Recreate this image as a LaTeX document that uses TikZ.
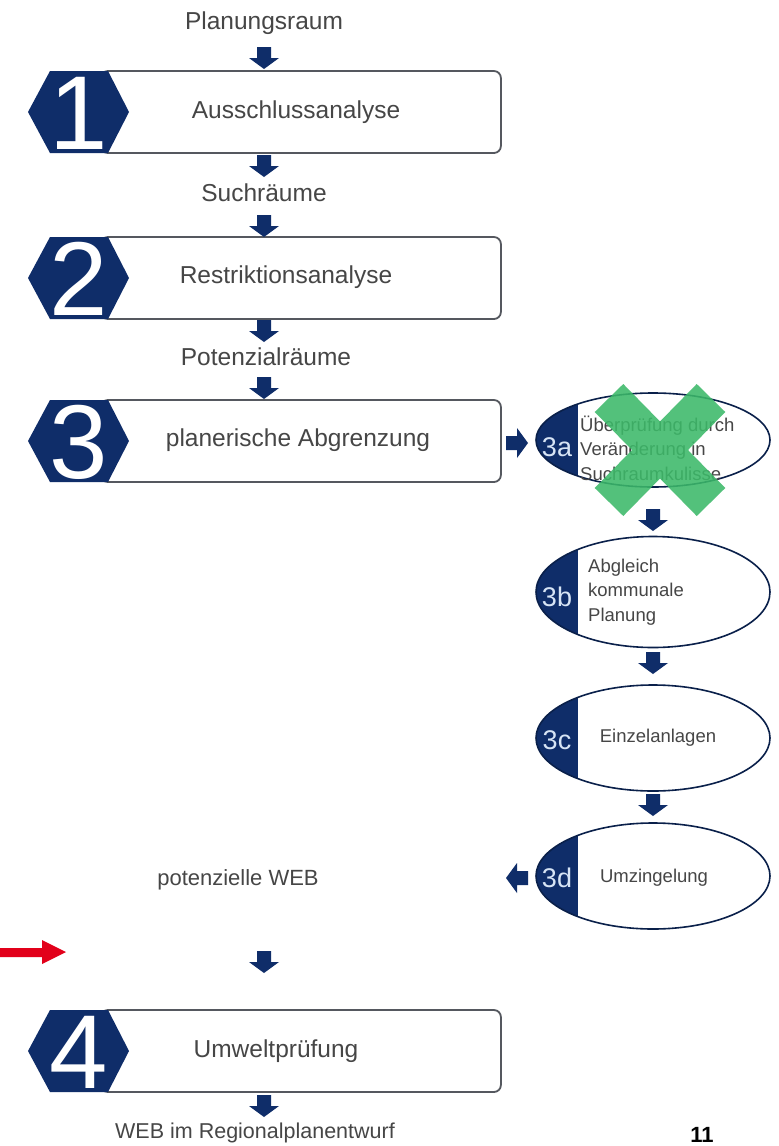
\documentclass[tikz,border=0pt]{standalone}
\usepackage{fontspec}
\setmainfont{Liberation Sans}
\usetikzlibrary{shapes.geometric}
\definecolor{navy}{RGB}{15,45,105}
\definecolor{txt}{RGB}{70,70,70}
\definecolor{frame}{RGB}{85,88,95}
\definecolor{xgreen}{RGB}{60,185,105}
\definecolor{redarr}{RGB}{226,0,26}
\definecolor{sublbl}{RGB}{215,228,245}
\newcommand\hexbadge[3]{%
  \fill[navy] (28,#2) -- (50,#2-41) -- (108,#2-41) -- (129,#2) -- (108,#2+41) -- (50,#2+41) -- cycle;
  \node[digit] (#1) at (79,#2+1) {#3};}
\begin{document}
\begin{tikzpicture}[x=1pt,y=-1pt,
  lbl/.style={text=txt,font=\fontsize{24.5}{28}\selectfont,inner sep=0},
  slbl/.style={text=txt,font=\fontsize{22}{26}\selectfont,inner sep=0},
  etext/.style={text=txt,font=\fontsize{18.5}{24.5}\selectfont,inner sep=0,align=left},
  stepbox/.style={draw=frame,line width=1.8pt,rounded corners=7pt,minimum width=400pt,minimum height=82pt,inner sep=0,anchor=west,fill=white},
  digit/.style={text=white,font=\fontsize{105}{105}\selectfont,inner sep=0},
  sub/.style={text=sublbl,font=\fontsize{27}{27}\selectfont,inner sep=0},
  ell/.style={ellipse,draw=navy!70!black,line width=1.6pt,minimum width=234pt,inner sep=0,fill=white,
    path picture={\fill[navy] (path picture bounding box.south west) rectangle ([xshift=42pt]path picture bounding box.north west);}},
  pics/blk/.style={code={\fill[navy] (-7,0) -- (7,0) -- (7,11) -- (15,11) -- (0,22) -- (-15,11) -- (-7,11) -- cycle;}}
]
\useasboundingbox[fill=white] (0,0) rectangle (779,1146);

% main column texts
\node[lbl] (pr) at (264,23) {Planungsraum};
\node[stepbox] (b1) at (100,112) {};
\node[lbl] (t1) at (296,112) {Ausschlussanalyse};
\hexbadge{d1}{112}{1}
\node[lbl] (sr) at (264,193) {Suchräume};
\node[stepbox] (b2) at (100,278) {};
\node[lbl] (t2) at (286,277) {Restriktionsanalyse};
\hexbadge{d2}{278}{2}
\node[lbl] (pz) at (266,357) {Potenzialräume};
\node[stepbox] (b3) at (100,441) {};
\node[lbl] (t3) at (298,440) {planerische Abgrenzung};
\hexbadge{d3}{441}{3}
\node[slbl] (pw) at (238,880) {potenzielle WEB};
\node[stepbox] (b4) at (100,1051) {};
\node[lbl] (t4) at (276,1051) {Umweltprüfung};
\hexbadge{d4}{1051}{4}
\node[slbl,font=\fontsize{21.5}{26}\selectfont] (wr) at (255,1133) {WEB im Regionalplanentwurf};
\node[font=\bfseries\fontsize{22}{22}\selectfont,inner sep=0] (pg) at (702,1135) {11};

% main column arrows
\pic at (264,47) {blk};
\pic at (264,155) {blk};
\pic at (264,215) {blk};
\pic at (264,320) {blk};
\pic at (264,377) {blk};
\pic at (264,951) {blk};
\pic at (264,1095) {blk};

% right column
\node[ell,minimum height=94pt] (e3a) at (653,440) {};
\node[sub] (s3a) at (557,447) {3a};
\node[etext,anchor=west] (x3a) at (580,448) {Überprüfung durch\\Veränderung in\\Suchraumkulisse};

\node[ell,minimum height=111pt] (e3b) at (653,592) {};
\node[sub] (s3b) at (557,597) {3b};
\node[etext,anchor=west] (x3b) at (588,592) {Abgleich\\kommunale\\Planung};

\node[ell,minimum height=106pt] (e3c) at (653,738) {};
\node[sub] (s3c) at (557,740) {3c};
\node[etext] (x3c) at (658,738) {Einzelanlagen};

\node[ell,minimum height=106pt] (e3d) at (653,876) {};
\node[sub] (s3d) at (557,878) {3d};
\node[etext] (x3d) at (654,878) {Umzingelung};

\pic[rotate=90] at (506,443) {blk};
\pic at (653,509) {blk};
\pic at (653,652) {blk};
\pic at (653,794) {blk};
\pic[rotate=-90] at (528,878) {blk};

% green cross
\draw[xgreen,line width=40pt,opacity=0.88] (609,398) -- (711,502) (711,398) -- (609,502);

% red arrow
\fill[redarr] (0,948) -- (42,948) -- (42,940) -- (66,952) -- (42,964) -- (42,957) -- (0,957) -- cycle;
\end{tikzpicture}
\end{document}
